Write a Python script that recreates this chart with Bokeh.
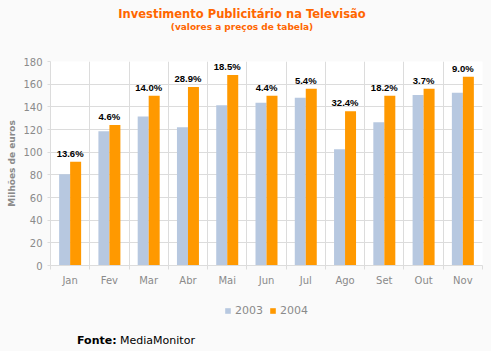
from bokeh.plotting import figure
from bokeh.models import ColumnDataSource, FixedTicker, Legend, LegendItem, Div
from bokeh.layouts import column
from bokeh.transform import dodge
from bokeh.embed import file_html
from bokeh.resources import INLINE
from bokeh.core.properties import value

months = ["Jan", "Fev", "Mar", "Abr", "Mai", "Jun", "Jul", "Ago", "Set", "Out", "Nov"]
v2003 = [80.5, 118.5, 131.5, 122.0, 141.5, 143.5, 148.0, 102.5, 126.5, 150.5, 152.5]
v2004 = [91.5, 124.0, 149.8, 157.5, 168.0, 149.8, 156.0, 136.0, 149.8, 156.0, 166.5]
growth = ["13.6%", "4.6%", "14.0%", "28.9%", "18.5%", "4.4%", "5.4%", "32.4%", "18.2%", "3.7%", "9.0%"]
y_ticks = [0, 20, 40, 60, 80, 100, 120, 140, 160, 180]
series_names = ["2003", "2004"]
title_text = "Investimento Publicitário na Televisão"
subtitle_text = "(valores a preços de tabela)"

C2003 = "#B7C8E0"
C2004 = "#FF9900"
GRID = "#DCDCDC"
GRAY = "#8A8A8A"
ORANGE = "#FF6600"
BG = "#FAFAFA"

centers = [i + 0.5 for i in range(len(months))]
src = ColumnDataSource(dict(x=centers, m=months, a=v2003, b=v2004, g=growth))

# ---- main chart ----
p = figure(width=491, height=252, x_range=(0, len(months)), y_range=(0, 180),
           output_backend="svg", toolbar_location=None,
           min_border_left=50, min_border_right=9, min_border_top=21, min_border_bottom=27,
           background_fill_color="white", border_fill_color=BG, margin=0)
p.outline_line_color = None

bw = 0.28
p.vbar(x=dodge("x", -bw / 2), top="a", width=bw, source=src, fill_color=C2003, line_color=None)
p.vbar(x=dodge("x", bw / 2), top="b", width=bw, source=src, fill_color=C2004, line_color=None)

p.text(x="x", y="b", text="g", source=src, text_align="center", text_baseline="bottom",
       y_offset=-3, text_font=value("Liberation Sans"), text_font_style="bold",
       text_font_size="9.5px", text_color="black")

# x axis: labels at centres, ticks/grid at boundaries
p.xaxis.ticker = FixedTicker(ticks=centers, minor_ticks=list(range(len(months) + 1)))
p.xaxis.major_label_overrides = {c: m for c, m in zip(centers, months)}
p.xaxis.major_tick_out = 0
p.xaxis.major_tick_in = 0
p.xaxis.minor_tick_out = 4
p.xaxis.minor_tick_in = 0
p.xaxis.minor_tick_line_color = GRID
p.xaxis.axis_line_color = GRID
p.xaxis.major_label_standoff = 5
p.xaxis.major_label_text_font = "DejaVu Sans"
p.xaxis.major_label_text_font_size = "10px"
p.xaxis.major_label_text_color = GRAY
p.xgrid.grid_line_color = None
p.xgrid.minor_grid_line_color = GRID

p.yaxis.ticker = FixedTicker(ticks=y_ticks)
p.yaxis.minor_tick_line_color = None
p.yaxis.major_tick_out = 3
p.yaxis.major_tick_in = 0
p.yaxis.major_tick_line_color = GRID
p.yaxis.axis_line_color = GRID
p.yaxis.major_label_standoff = 5
p.yaxis.major_label_text_font = "DejaVu Sans"
p.yaxis.major_label_text_font_size = "10px"
p.yaxis.major_label_text_color = GRAY
p.yaxis.axis_label = "Milhões de euros"
p.yaxis.axis_label_text_font = "DejaVu Sans"
p.yaxis.axis_label_text_font_size = "9px"
p.yaxis.axis_label_text_font_style = "bold"
p.yaxis.axis_label_text_color = GRAY
p.yaxis.axis_label_standoff = 3
p.ygrid.grid_line_color = GRID

# ---- legend strip (key swatches only; their marks lie outside the visible range) ----
lg = figure(width=491, height=34, x_range=(0, 1), y_range=(0, 1),
            output_backend="svg", toolbar_location=None,
            x_axis_type=None, y_axis_type=None, min_border=0, margin=0,
            background_fill_color=BG, border_fill_color=BG)
lg.outline_line_color = None
lg.grid.visible = False
k1 = lg.vbar(x=[-5], top=[-5], width=0.1, fill_color=C2003, line_color=None)
k2 = lg.vbar(x=[-5], top=[-5], width=0.1, fill_color=C2004, line_color=None)
legend = Legend(items=[LegendItem(label=series_names[0], renderers=[k1]),
                       LegendItem(label=series_names[1], renderers=[k2])],
                orientation="horizontal", location=(174, 9),
                glyph_width=7, glyph_height=7, label_standoff=4, spacing=6,
                padding=0, margin=0, label_height=10,
                label_text_font="DejaVu Sans", label_text_font_size="11px",
                label_text_color=GRAY, background_fill_alpha=0, border_line_color=None)
lg.add_layout(legend, "center")

# ---- title and source ----
title_div = Div(width=491, height=40, margin=0, text=(
    '<div style="position:relative;width:491px;height:40px;">'
    '<div style="position:absolute;left:0;top:8px;width:484px;text-align:center;white-space:nowrap;'
    "font-family:'DejaVu Sans';font-weight:bold;font-size:11.5px;line-height:13px;color:%s;\">%s</div>"
    '<div style="position:absolute;left:0;top:22px;width:484px;text-align:center;white-space:nowrap;'
    "font-family:'DejaVu Sans';font-weight:bold;font-size:9px;line-height:11px;color:%s;\">%s</div>"
    '</div>') % (ORANGE, title_text, ORANGE, subtitle_text))

fonte_div = Div(width=491, height=25, margin=0, text=(
    '<div style="position:relative;width:491px;height:25px;">'
    '<div style="position:absolute;left:77px;top:8px;white-space:nowrap;'
    "font-family:'DejaVu Sans';font-size:11px;line-height:13px;color:black;\">"
    '<b>Fonte:</b> MediaMonitor</div></div>'))

layout = column(title_div, p, lg, fonte_div, spacing=0, styles={"background-color": BG})

open("out.html", "w").write(file_html(layout, INLINE))
